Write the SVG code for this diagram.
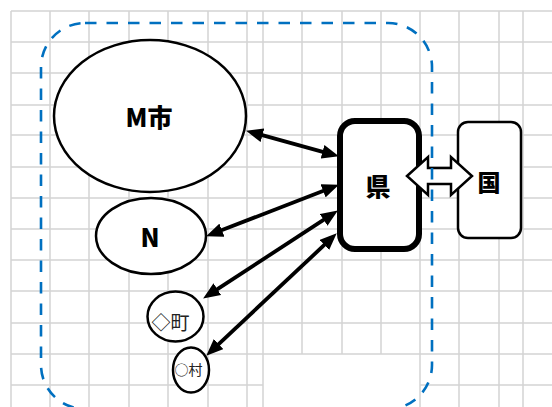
<svg xmlns="http://www.w3.org/2000/svg" width="552" height="407" viewBox="0 0 552 407">
<style>
.grid line{stroke:#d3d3d3;stroke-width:1.5}
.node{fill:#fff;stroke:#000;stroke-width:2.5}
.lbl{font-family:"Noto Sans CJK JP","Noto Sans",sans-serif;font-weight:900;fill:#000;text-anchor:middle}
.sm{font-family:"Noto Sans CJK JP","Noto Sans",sans-serif;font-weight:normal;fill:#222;text-anchor:middle}
.conn line{stroke:#000;stroke-width:3.8;marker-start:url(#ah);marker-end:url(#ah)}
</style>
<defs>
<marker id="ah" viewBox="0 0 17 14" refX="4" refY="7" markerWidth="17" markerHeight="14" markerUnits="userSpaceOnUse" orient="auto-start-reverse">
<path d="M0,0 L17,7 L0,14 Z" fill="#000"/>
</marker>
</defs>
<rect width="552" height="407" fill="#fff"/>
<g class="grid">
<line x1="11" y1="11" x2="11" y2="407"/>
<line x1="50" y1="11" x2="50" y2="407"/>
<line x1="89" y1="11" x2="89" y2="407"/>
<line x1="129" y1="11" x2="129" y2="407"/>
<line x1="168" y1="11" x2="168" y2="407"/>
<line x1="208" y1="11" x2="208" y2="407"/>
<line x1="247" y1="11" x2="247" y2="407"/>
<line x1="263" y1="11" x2="263" y2="407"/>
<line x1="302" y1="11" x2="302" y2="354"/>
<line x1="342" y1="11" x2="342" y2="354"/>
<line x1="381" y1="11" x2="381" y2="354"/>
<line x1="420" y1="11" x2="420" y2="407"/>
<line x1="459" y1="11" x2="459" y2="407"/>
<line x1="499" y1="11" x2="499" y2="407"/>
<line x1="523" y1="11" x2="523" y2="407"/>
<line x1="11" y1="11" x2="552" y2="11"/>
<line x1="11" y1="42" x2="552" y2="42"/>
<line x1="11" y1="73" x2="552" y2="73"/>
<line x1="11" y1="105" x2="552" y2="105"/>
<line x1="11" y1="135" x2="552" y2="135"/>
<line x1="11" y1="167" x2="552" y2="167"/>
<line x1="11" y1="198" x2="552" y2="198"/>
<line x1="11" y1="229" x2="552" y2="229"/>
<line x1="11" y1="260" x2="552" y2="260"/>
<line x1="11" y1="291" x2="552" y2="291"/>
<line x1="11" y1="323" x2="552" y2="323"/>
<line x1="11" y1="354" x2="552" y2="354"/>
<line x1="11" y1="385" x2="263" y2="385"/>
<line x1="420" y1="385" x2="552" y2="385"/>
</g>
<g id="node-M">
<ellipse class="node" cx="150" cy="116" rx="96" ry="76"/>
<text class="lbl" x="149" y="127" font-size="25">M市</text>
</g>
<g id="node-N">
<ellipse class="node" cx="151" cy="236" rx="55" ry="38"/>
<text class="lbl" x="150" y="247" font-size="25">N</text>
</g>
<g id="node-cho">
<ellipse class="node" cx="175.5" cy="316.5" rx="28" ry="25"/>
<text class="sm" x="170.5" y="329.5" font-size="19">◇町</text>
</g>
<g id="node-son">
<ellipse class="node" cx="191" cy="370" rx="18" ry="22.5"/>
<text class="sm" x="188.5" y="375" font-size="14">○村</text>
</g>
<g id="node-ken">
<rect x="340" y="121" width="79" height="128" rx="15" fill="#fff" stroke="#000" stroke-width="6"/>
<text class="lbl" x="378" y="196" font-size="25">県</text>
</g>
<g id="node-kuni">
<rect class="node" x="458" y="122" width="63" height="116" rx="10"/>
<text class="lbl" x="489" y="191" font-size="23">国</text>
</g>
<g id="connectors" class="conn">
<line x1="258.6" y1="134.2" x2="326.4" y2="152.8"/>
<line x1="218.2" y1="231.6" x2="326.8" y2="189.4"/>
<line x1="214" y1="291.4" x2="327" y2="217.6"/>
<line x1="215.75" y1="346.8" x2="327.25" y2="242.2"/>
<polygon points="407,176 428,157 428,168 451,168 451,157 472,176 451,195 451,184 428,184 428,195" fill="#fff" stroke="#000" stroke-width="2.5" stroke-linejoin="miter"/>
</g>
<g id="boundary">
<rect x="41" y="23" width="391" height="386" rx="44" fill="none" stroke="#0070C0" stroke-width="2.6" stroke-dasharray="11.5 10"/>
</g>
</svg>
